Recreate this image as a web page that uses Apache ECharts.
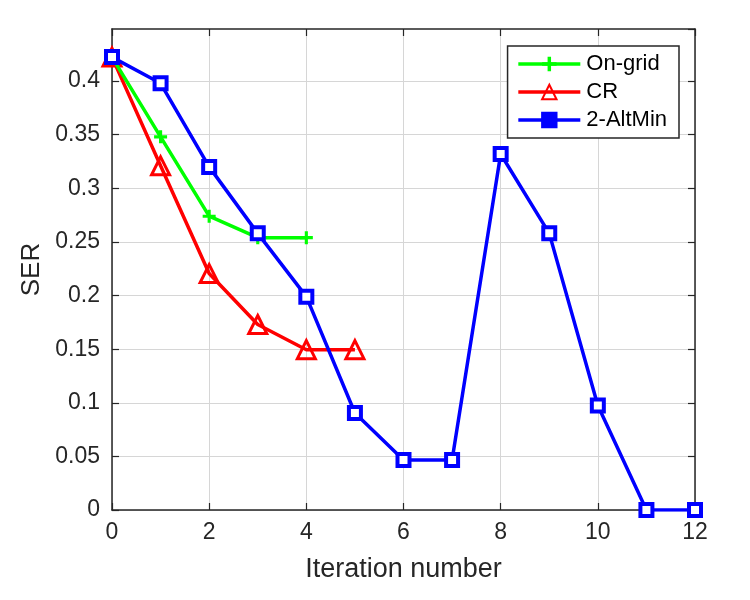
<!DOCTYPE html>
<html><head><meta charset="utf-8">
<script src="https://cdn.jsdelivr.net/npm/echarts@6/dist/echarts.min.js"></script>
<style>html,body{margin:0;padding:0;background:#fff}#c{width:750px;height:600px}</style>
</head><body><div id="c"></div>
<script>
const iterOnGrid = [0, 1, 2, 3, 4];
const serOnGrid = [0.4224, 0.348, 0.274, 0.254, 0.254];
const iterCR = [0, 1, 2, 3, 4, 5];
const serCR = [0.4224, 0.321, 0.2205, 0.173, 0.1495, 0.1495];
const iterAlt = [0, 1, 2, 3, 4, 5, 6, 7, 8, 9, 10, 11, 12];
const serAlt = [0.4224, 0.398, 0.320, 0.258, 0.199, 0.0905, 0.0467, 0.0467, 0.332, 0.258, 0.0975, 0, 0];
const seriesNames = ['On-grid', 'CR', '2-AltMin'];
const xTicks = [0, 2, 4, 6, 8, 10, 12];
const yTicks = [0, 0.05, 0.1, 0.15, 0.2, 0.25, 0.3, 0.35, 0.4];

const pair = (xs, ys) => xs.map((x, i) => [x, ys[i]]);
const FONT = 'Liberation Sans';
const TXT = '#262626';
const GRIDC = '#d6d6d6';
const plusPath = 'path://M3.8,0 L6.2,0 L6.2,3.8 L10,3.8 L10,6.2 L6.2,6.2 L6.2,10 L3.8,10 L3.8,6.2 L0,6.2 L0,3.8 L3.8,3.8 Z';

const chart = echarts.init(document.getElementById('c'));
const yFmt = v => {
  const m = yTicks.find(t => Math.abs(t - v) < 1e-9);
  return m === undefined ? '' : String(m);
};
const tick = { show: true, inside: true, length: 7, lineStyle: { color: TXT, width: 1.2 } };
const line = { show: true, onZero: false, lineStyle: { color: TXT, width: 1.5 } };
chart.setOption({
  animation: false,
  textStyle: { fontFamily: FONT },
  grid: { left: 112, right: 55, top: 29, bottom: 90, show: false },
  legend: {
    right: 71, top: 46, orient: 'vertical', align: 'left',
    backgroundColor: '#fff', borderColor: TXT, borderWidth: 1.5,
    padding: [7, 12, 7, 9], itemGap: 6, itemWidth: 62, itemHeight: 18,
    textStyle: { fontFamily: FONT, fontSize: 22, color: '#000', padding: [0, 0, 0, 1] },
    data: [
      { name: seriesNames[0], lineStyle: { width: 3.5 } },
      { name: seriesNames[1], lineStyle: { width: 3.5 } },
      { name: seriesNames[2], lineStyle: { width: 3.5 }, itemStyle: { color: '#0000ff' } }
    ]
  },
  xAxis: [{
    type: 'value', min: 0, max: 12, interval: 2,
    name: 'Iteration number', nameLocation: 'middle', nameGap: 46,
    nameTextStyle: { fontFamily: FONT, fontSize: 27, color: TXT },
    axisLine: line, axisTick: tick,
    axisLabel: { fontFamily: FONT, fontSize: 23, color: TXT, margin: 11 },
    splitLine: { show: true, lineStyle: { color: GRIDC, width: 1 } }
  }, {
    type: 'value', position: 'top', min: 0, max: 12, interval: 2,
    axisLine: line, axisTick: tick,
    axisLabel: { show: false }, splitLine: { show: false }
  }],
  yAxis: [{
    type: 'value', min: 0, max: 0.4486, interval: 0.05,
    name: 'SER', nameLocation: 'middle', nameGap: 66,
    nameTextStyle: { fontFamily: FONT, fontSize: 26, color: TXT },
    axisLine: line, axisTick: tick,
    axisLabel: { fontFamily: FONT, fontSize: 23, color: TXT, margin: 12, formatter: yFmt, showMaxLabel: false },
    splitLine: { show: true, lineStyle: { color: GRIDC, width: 1 }, showMaxLine: false }
  }, {
    type: 'value', position: 'right', min: 0, max: 0.4486, interval: 0.05,
    axisLine: line, axisTick: tick,
    axisLabel: { show: false }, splitLine: { show: false }
  }],
  series: [
    {
      name: seriesNames[0], type: 'line', data: pair(iterOnGrid, serOnGrid),
      symbol: plusPath, symbolSize: 13,
      lineStyle: { color: '#00ff00', width: 3.5 },
      itemStyle: { color: '#00ff00' }, z: 3
    },
    {
      name: seriesNames[1], type: 'line', data: pair(iterCR, serCR),
      symbol: 'triangle', symbolSize: 18,
      lineStyle: { color: '#ff0000', width: 3.5 },
      itemStyle: { color: 'rgba(255,255,255,0)', borderColor: '#ff0000', borderWidth: 3 }, z: 2
    },
    {
      name: seriesNames[2], type: 'line', data: pair(iterAlt, serAlt),
      symbol: 'rect', symbolSize: 12,
      lineStyle: { color: '#0000ff', width: 3.5 },
      itemStyle: { color: '#ffffff', borderColor: '#0000ff', borderWidth: 4 }, z: 4
    }
  ]
});
</script></body></html>
